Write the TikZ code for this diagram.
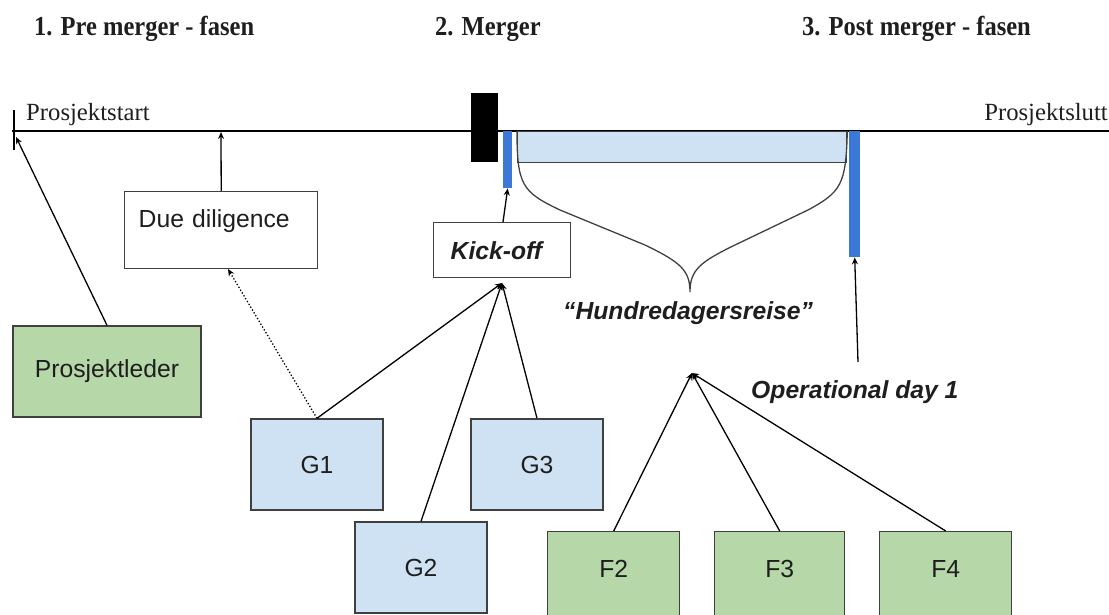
\documentclass[tikz,border=0pt]{standalone}
\usepackage{fontspec}
\setmainfont{Liberation Serif}
\setsansfont{Liberation Sans}
\usetikzlibrary{arrows.meta}

\definecolor{boxgreen}{HTML}{B6D7A8}
\definecolor{boxblue}{HTML}{CFE2F3}
\definecolor{barblue}{HTML}{3C78D8}
\definecolor{edgegray}{HTML}{404040}
\definecolor{inkdark}{HTML}{1E1E1E}

\tikzset{
  heading/.style={font=\fontsize{24.5}{28}\selectfont\bfseries, text=inkdark,
    inner sep=0pt, anchor=base west, yscale=1.12, transform shape},
  endlabel/.style={font=\fontsize{24.7}{28}\selectfont, text=inkdark, inner sep=0pt},
  notelabel/.style={font=\sffamily\bfseries\itshape\fontsize{24.7}{28}\selectfont,
    text=inkdark, inner sep=0pt, anchor=base west},
  boxbase/.style={draw=edgegray, line width=1.4pt, inner sep=0pt,
    font=\sffamily\fontsize{24.7}{28}\selectfont, text=inkdark},
  greenbox/.style={boxbase, fill=boxgreen},
  bluebox/.style={boxbase, fill=boxblue, minimum width=132pt, minimum height=91pt},
  whitebox/.style={boxbase, fill=white, align=left, anchor=north west, inner ysep=0pt},
  bar/.style={fill=barblue, draw=none, inner sep=0pt, anchor=north west},
  link/.style={line width=1.3pt, draw=black},
  arr/.style={link, -{Stealth[length=7pt,width=6pt]}},
}

\begin{document}
\begin{tikzpicture}[x=1pt, y=-1pt]
  \useasboundingbox (0,0) rectangle (1109,615);
  \clip (0,0) rectangle (1109,615);

  % phase headings
  \node[heading] (h1) at (34,36) {1. Pre merger - fasen};
  \node[heading] (h2) at (435,36) {2. Merger};
  \node[heading] (h3) at (802,36) {3. Post merger - fasen};

  % time line with its start tick
  \coordinate (tlstart) at (12,131);
  \coordinate (tlend) at (1109,131);
  \draw[line width=2pt] (tlstart) -- (tlend);
  \coordinate (ticktop) at (14,110);
  \coordinate (tickbot) at (14,150);
  \draw[line width=2.2pt] (ticktop) -- (tickbot);
  \coordinate (tickhit) at (16,137);
  \coordinate (ddhit) at (221,132);

  \node[endlabel, anchor=base west] (start) at (26,121) {Prosjektstart};
  \node[endlabel, anchor=base east] (end) at (1108,121) {Prosjektslutt};

  % merger marker, hundred-day span and milestone bars
  \node[fill=black, inner sep=0pt, anchor=north west, minimum width=27pt,
        minimum height=69pt] (merger) at (471,93) {};
  \node[draw=edgegray, line width=1.3pt, fill=boxblue, inner sep=0pt, anchor=north west,
        minimum width=329pt, minimum height=31pt] (span) at (517,131) {};
  \node[bar, minimum width=9pt, minimum height=57pt] (kbar) at (503,131) {};
  \node[bar, minimum width=11pt, minimum height=126pt] (obar) at (849,131) {};

  % brace under the span
  \draw[line width=1.3pt, edgegray]
    (span.north west) .. controls (517,185) and (522,192) .. (560,210)
    -- (645,245) .. controls (680,262) and (690,270) .. (690,292)
    .. controls (690,270) and (700,262) .. (735,245)
    -- (808,210) .. controls (841,192) and (846,185) .. (span.north east);

  \node[notelabel] (hundre) at (563,319) {“Hundredagersreise”};
  \node[notelabel] (opday) at (751,398) {Operational day 1};
  \coordinate (opfoot) at (858,362);

  % boxes
  \node[greenbox, minimum width=188pt, minimum height=91pt] (leder) at (107,371.5) {Prosjektleder};
  \node[whitebox, inner xsep=14pt, text width=165pt, text height=36pt, text depth=41pt]
    (dd) at (124,191) {Due diligence};
  \node[whitebox, inner xsep=17pt, text width=103pt, text height=37pt, text depth=18pt,
        font=\sffamily\bfseries\itshape\fontsize{24.7}{28}\selectfont]
    (kick) at (433,222) {Kick-off};

  \node[bluebox] (g1) at (317,464.5) {G1};
  \node[bluebox] (g3) at (537,464.5) {G3};
  \node[bluebox] (g2) at (421,567.5) {G2};

  \node[greenbox, anchor=north west, text width=132pt, align=center,
        text height=46pt, text depth=63pt] (f2) at (547,531) {F2};
  \node[greenbox, anchor=north west, text width=130pt, align=center,
        text height=46pt, text depth=63pt] (f3) at (714,531) {F3};
  \node[greenbox, anchor=north west, text width=132pt, align=center,
        text height=46pt, text depth=63pt] (f4) at (879,531) {F4};

  % meeting points of the group arrows
  \coordinate (kin) at (502,283);
  \coordinate (fin) at (692,373);
  \coordinate (ddfoot) at (228,269);
  \coordinate (kickout) at (503,222);

  % connectors
  \draw[arr] (leder.north) -- (tickhit);
  \draw[arr] (dd.north) -- (ddhit);
  \draw[arr, dotted] (g1.north) -- (ddfoot);
  \draw[arr] (kickout) -- (kbar.south);
  \draw[arr] (g1.north) -- (kin);
  \draw[arr] (g2.north) -- (kin);
  \draw[arr] (g3.north) -- (kin);
  \draw[arr] (f2.north) -- (fin);
  \draw[arr] (f3.north) -- (fin);
  \draw[arr] (f4.north) -- (fin);
  \draw[arr] (opfoot) -- (obar.south);
\end{tikzpicture}
\end{document}
